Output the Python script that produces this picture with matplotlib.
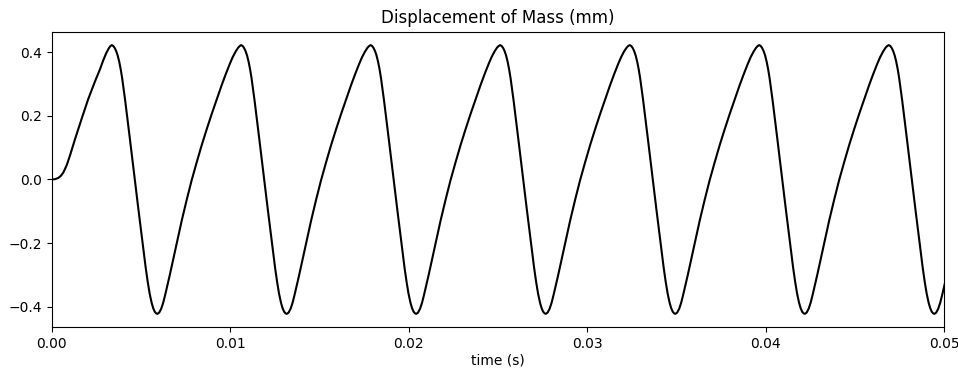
import matplotlib
matplotlib.use("Agg")
import matplotlib.pyplot as plt
import numpy as np

# Start-up from rest until the first crest (time in s, displacement in mm)
onset_t = [0.0, 0.000185, 0.000370, 0.000521, 0.000650, 0.000840, 0.001025,
           0.001305, 0.001681, 0.002050, 0.002426, 0.002711, 0.002879,
           0.003047, 0.003188, 0.003272]
onset_v = [0.000, 0.001, 0.005, 0.012, 0.022, 0.045, 0.076,
           0.127, 0.192, 0.254, 0.309, 0.348, 0.374,
           0.397, 0.412, 0.419]

# Times of the crests of the steady oscillation (s)
peak_t = [0.003361, 0.010611, 0.017866, 0.025126, 0.032387, 0.039641, 0.046902]

# One steady cycle, measured from a crest (time offset in s, displacement in mm)
cycle_dt = [0.0, 0.000084, 0.000168, 0.000252, 0.000336, 0.000420, 0.000504,
            0.000588, 0.000672, 0.000756, 0.000840, 0.001025, 0.001216,
            0.001496, 0.001737, 0.001905, 0.002017, 0.002129, 0.002241,
            0.002325, 0.002409, 0.002493, 0.002560,
            0.002661, 0.002773, 0.002885, 0.002997, 0.003109, 0.003249,
            0.003473, 0.003697, 0.003921, 0.004202, 0.004482, 0.004762,
            0.005042, 0.005322, 0.005602, 0.005882, 0.006162, 0.006386,
            0.006610, 0.006778, 0.006946, 0.007087, 0.007171]
cycle_v = [0.423, 0.4205, 0.414, 0.404, 0.390, 0.371, 0.347,
           0.318, 0.284, 0.248, 0.210, 0.125, 0.036,
           -0.094, -0.202, -0.278, -0.322, -0.360, -0.389,
           -0.405, -0.416, -0.4215, -0.423,
           -0.419, -0.407, -0.388, -0.363, -0.336, -0.302,
           -0.245, -0.188, -0.130, -0.064, -0.002, 0.054,
           0.108, 0.158, 0.206, 0.252, 0.297, 0.331,
           0.363, 0.385, 0.403, 0.415, 0.420]

# Assemble the full trace: start-up, then one cycle after each crest
t = list(onset_t)
v = list(onset_v)
for p in peak_t:
    t.extend(p + dt for dt in cycle_dt)
    v.extend(cycle_v)
t = np.array(t)
v = np.array(v)

fig = plt.figure(figsize=(9.58, 3.68), dpi=100)
ax = fig.add_axes([0.054, 0.1106, 0.9314, 0.8033])
ax.plot(t, v, color="black", linewidth=1.5)
ax.set_xlim(0, 0.05)
ax.set_title("Displacement of Mass (mm)")
ax.set_xlabel("time (s)", labelpad=1.5)
fig.savefig("out.png", dpi=100)
